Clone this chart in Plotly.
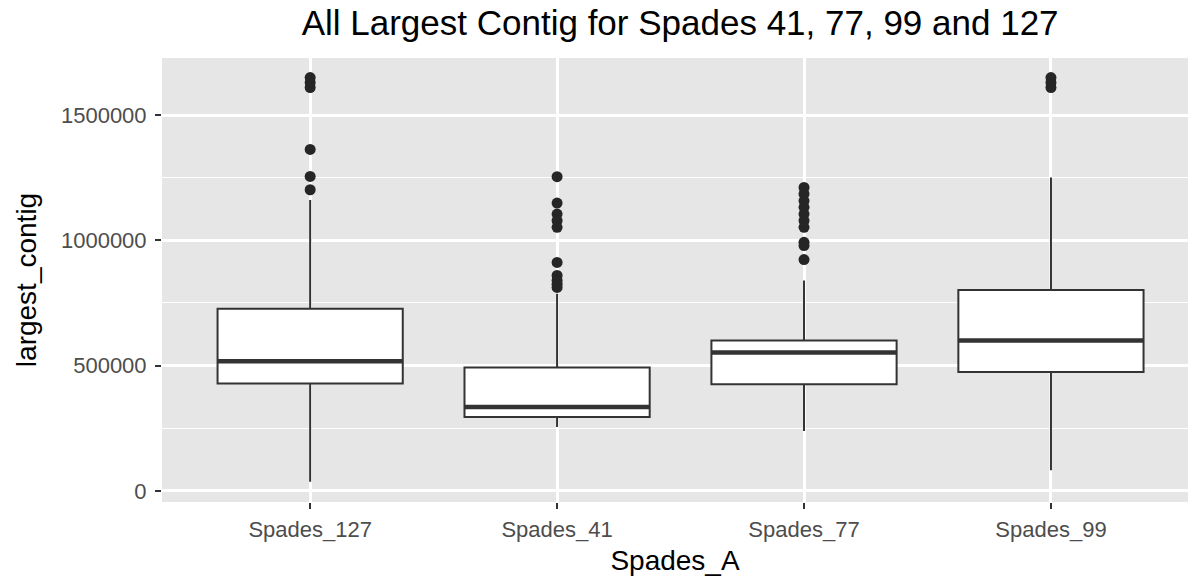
import plotly.graph_objects as go

categories = ["Spades_127", "Spades_41", "Spades_77", "Spades_99"]
q1 = [428000, 295000, 425000, 474000]
median = [517000, 335000, 552000, 600000]
q3 = [727000, 492000, 600000, 802000]
lower_whisker = [36000, 255000, 239000, 82000]
upper_whisker = [1161000, 787000, 840000, 1251000]

outliers = {
    "Spades_127": [1650000, 1630000, 1610000, 1363000, 1255000, 1202000],
    "Spades_41": [1254000, 1149000, 1105000, 1079000, 1052000, 912000,
                  860000, 840000, 825000, 812000],
    "Spades_77": [1211000, 1185000, 1158000, 1132000, 1105000, 1079000,
                  1052000, 992000, 979000, 923000],
    "Spades_99": [1650000, 1630000, 1610000],
}

y_tickvals = [0, 500000, 1000000, 1500000]
y_ticktext = ["0", "500000", "1000000", "1500000"]

FONT = "Liberation Sans, Arial, Helvetica, sans-serif"
LINE = "#333333"

fig = go.Figure()

fig.add_trace(go.Box(
    x=categories, q1=q1, median=median, q3=q3,
    lowerfence=lower_whisker, upperfence=upper_whisker,
    boxpoints=False, width=0.75, whiskerwidth=0,
    fillcolor="white", line=dict(color=LINE, width=2),
    showlegend=False, hoverinfo="skip",
))

# thicker median line (ggplot style)
fig.add_trace(go.Box(
    x=categories, q1=median, median=median, q3=median,
    lowerfence=median, upperfence=median,
    boxpoints=False, width=0.75, whiskerwidth=0,
    fillcolor="rgba(0,0,0,0)", line=dict(color=LINE, width=4.5),
    showlegend=False, hoverinfo="skip",
))

ox, oy = [], []
for c in categories:
    for v in outliers[c]:
        ox.append(c)
        oy.append(v)

fig.add_trace(go.Scatter(
    x=ox, y=oy, mode="markers",
    marker=dict(color="#262626", size=11, line=dict(width=0)),
    showlegend=False, hoverinfo="skip",
))

fig.update_layout(
    width=1188, height=577,
    margin=dict(l=162, r=0, t=58, b=75),
    paper_bgcolor="white", plot_bgcolor="#E6E6E6",
    boxmode="overlay",
    font=dict(family=FONT),
    title=dict(
        text="All Largest Contig for Spades 41, 77, 99 and 127",
        x=0.505, xref="paper", xanchor="center",
        y=1 - 23 / 577, yref="container", yanchor="middle",
        font=dict(size=35, color="black", family=FONT),
    ),
)

fig.update_xaxes(
    type="category", categoryorder="array", categoryarray=categories,
    range=[-0.6, 3.555],
    showgrid=True, gridcolor="white", gridwidth=2.5,
    zeroline=False, showline=False,
    ticks="outside", ticklen=6, tickwidth=2, tickcolor=LINE,
    tickfont=dict(size=22, color="#4D4D4D", family=FONT),
    ticklabelstandoff=2,
    title=dict(text="Spades_A", font=dict(size=28, color="black", family=FONT),
               standoff=8),
)

fig.update_yaxes(
    range=[-44700, 1728000],
    tickvals=y_tickvals, ticktext=y_ticktext,
    showgrid=True, gridcolor="white", gridwidth=2.5,
    minor=dict(dtick=250000, tick0=0, showgrid=True, gridcolor="white", gridwidth=1.2),
    zeroline=False, showline=False,
    ticks="outside", ticklen=6, tickwidth=2, tickcolor=LINE,
    tickfont=dict(size=22, color="#4D4D4D", family=FONT),
    ticklabelstandoff=4,
    title=dict(text="largest_contig", font=dict(size=28, color="black", family=FONT),
               standoff=16),
)

fig.write_html("out.html")
